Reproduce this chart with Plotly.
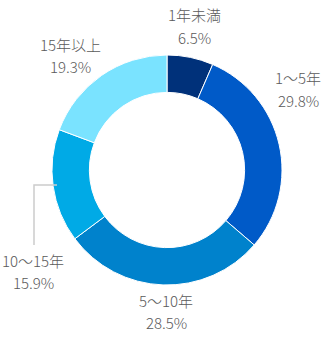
import plotly.graph_objects as go

categories = ["1年未満", "1～5年", "5～10年", "10～15年", "15年以上"]
values = [6.5, 29.8, 28.5, 15.9, 19.3]
colors = ["#00317a", "#005ac8", "#0082cc", "#00aae6", "#7ae3ff"]

# label anchor positions in pixels (centre x, y of first line)
label_pos = [(194, 15), (298, 78), (166, 300), (33, 260), (70, 45)]

W, H = 334, 340
cx, cy, R = 167, 170, 115

fig = go.Figure(go.Pie(
    labels=categories, values=values, sort=False, direction="clockwise",
    rotation=0, hole=0.675, textinfo="none", hoverinfo="label+percent",
    marker=dict(colors=colors, line=dict(color="white", width=1)),
    domain=dict(x=[(cx - R) / W, (cx + R) / W], y=[1 - (cy + R) / H, 1 - (cy - R) / H]),
    showlegend=False,
))

font = dict(family="Noto Sans CJK JP", size=15, color="#5a5a5a", weight=300)
for name, v, (x, y) in zip(categories, values, label_pos):
    fig.add_annotation(x=x / W, y=1 - y / H, xref="paper", yref="paper", text=name,
                       showarrow=False, font=font, xanchor="center", yanchor="middle")
    fig.add_annotation(x=x / W, y=1 - (y + 22) / H, xref="paper", yref="paper", text=f"{v}%",
                       showarrow=False, font=font, xanchor="center", yanchor="middle")

# leader line for 10～15年
fig.add_shape(type="path", xref="paper", yref="paper",
              path=f"M {57/W} {1-185/H} L {34/W} {1-185/H} L {34/W} {1-245/H}",
              line=dict(color="#cccccc", width=1.5))

fig.update_layout(width=W, height=H, margin=dict(l=0, r=0, t=0, b=0),
                  paper_bgcolor="white", plot_bgcolor="white")
fig.write_html("out.html")
